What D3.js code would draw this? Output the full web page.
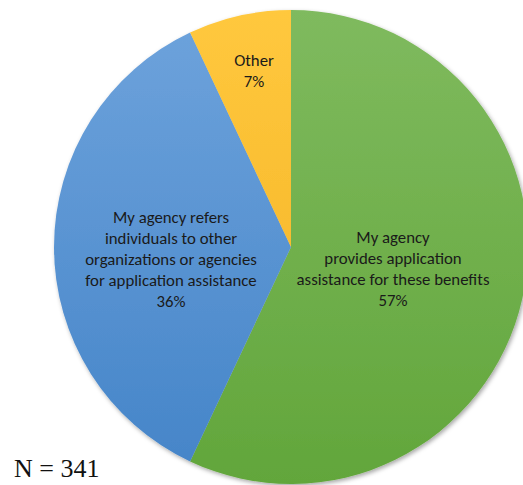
<!DOCTYPE html>
<html>
<head>
<meta charset="utf-8">
<script src="https://cdn.jsdelivr.net/npm/d3@7"></script>
<style>
  html, body { margin: 0; padding: 0; background: #fff; }
  svg { display: block; }
</style>
</head>
<body>
<svg id="chart" width="523" height="485"></svg>
<script>
// Survey responses: how agencies handle benefit applications
const categories = [
  "My agency provides application assistance for these benefits",
  "My agency refers individuals to other organizations or agencies for application assistance",
  "Other"
];
const values = [57, 36, 7];
const labelLines = [
  ["My agency", "provides application", "assistance for these benefits", "57%"],
  ["My agency refers", "individuals to other", "organizations or agencies", "for application assistance", "36%"],
  ["Other", "7%"]
];
const colorsTop = ["#7fba5e", "#6ea3dc", "#ffc83e"];
const colorsBottom = ["#62a63b", "#4484c8", "#f2b020"];
const sampleSize = "N = 341";

const svg = d3.select("#chart");
const cx = 291, cy = 247, r = 237;

const defs = svg.append("defs");
const shadow = defs.append("filter").attr("id", "shadow")
  .attr("x", "-10%").attr("y", "-10%").attr("width", "120%").attr("height", "120%");
shadow.append("feDropShadow")
  .attr("dx", 1.5).attr("dy", 2).attr("stdDeviation", 2)
  .attr("flood-color", "#000").attr("flood-opacity", 0.35);

values.forEach((v, i) => {
  const g = defs.append("linearGradient").attr("id", "grad" + i)
    .attr("gradientUnits", "userSpaceOnUse")
    .attr("x1", 0).attr("y1", -r).attr("x2", 0).attr("y2", r);
  g.append("stop").attr("offset", "0%").attr("stop-color", colorsTop[i]);
  g.append("stop").attr("offset", "100%").attr("stop-color", colorsBottom[i]);
});

const pie = d3.pie().sort(null).value(d => d)(values);
const arc = d3.arc().innerRadius(0).outerRadius(r);

const g = svg.append("g").attr("transform", `translate(${cx},${cy})`);
g.append("g").attr("filter", "url(#shadow)")
  .selectAll("path").data(pie).join("path")
  .attr("d", arc)
  .attr("fill", (d, i) => `url(#grad${i})`);

// Label anchor points, placed inside each slice
const labelPos = [
  {x: 393 - cx, y: 237 - cy},
  {x: 171 - cx, y: 217 - cy},
  {x: 254 - cx, y: 60 - cy}
];
const lineH = 21;
labelLines.forEach((lines, i) => {
  const t = g.append("text")
    .attr("text-anchor", "middle")
    .attr("font-family", "Carlito, Calibri, Lato, 'Open Sans', sans-serif")
    .attr("font-size", 16.8)
    .attr("fill", "#1a1a1a");
  lines.forEach((ln, k) => {
    t.append("tspan")
      .attr("x", labelPos[i].x)
      .attr("y", labelPos[i].y + k * lineH)
      .attr("dy", "0.35em")
      .text(ln);
  });
});

svg.append("text")
  .attr("x", 14).attr("y", 477)
  .attr("font-family", "'Liberation Serif', 'DejaVu Serif', serif")
  .attr("font-size", 26)
  .attr("fill", "#111")
  .text(sampleSize);
</script>
</body>
</html>
